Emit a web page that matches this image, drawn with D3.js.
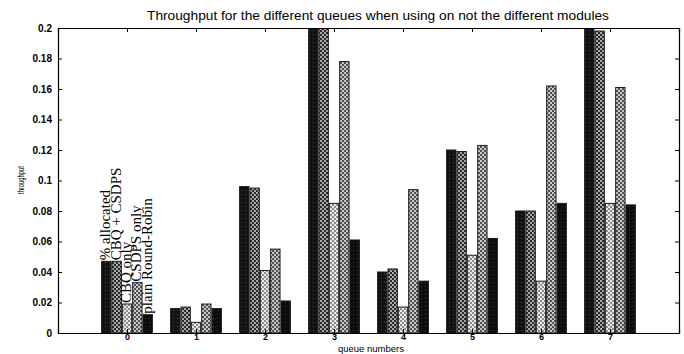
<!DOCTYPE html>
<html>
<head>
<meta charset="utf-8">
<script src="https://cdn.jsdelivr.net/npm/d3@7"></script>
<style>
  body { margin: 0; background: #fff; }
  svg { display: block; }
  .tick text { font-family: "Liberation Sans", Arial, sans-serif; }
</style>
</head>
<body>
<script>
//////////////////////
// GLOBAL VARIABLES //
const w = 684;
const h = 354;
const margin = { top: 28, right: 5, bottom: 21, left: 58 };

// queue numbers on the x axis
const queues = [0, 1, 2, 3, 4, 5, 6, 7];
// series names (also used as the rotated legend over queue 0)
const series = ["% allocated", "CBQ + CSDPS", "CBQ only", "CSDPS only", "plain Round-Robin"];
// throughput per queue, one array per series
const allocated   = [0.047, 0.016, 0.096, 0.215, 0.040, 0.120, 0.080, 0.205];
const cbqCsdps    = [0.047, 0.017, 0.095, 0.200, 0.042, 0.119, 0.080, 0.198];
const cbqOnly     = [0.019, 0.007, 0.041, 0.085, 0.017, 0.051, 0.034, 0.085];
const csdpsOnly   = [0.033, 0.019, 0.055, 0.178, 0.094, 0.123, 0.162, 0.161];
const roundRobin  = [0.012, 0.016, 0.021, 0.061, 0.034, 0.062, 0.085, 0.084];
const yTicks = [0, 0.02, 0.04, 0.06, 0.08, 0.1, 0.12, 0.14, 0.16, 0.18, 0.2];
const yTickLabels = ["0", "0.02", "0.04", "0.06", "0.08", "0.1", "0.12", "0.14", "0.16", "0.18", "0.2"];
const values = [allocated, cbqCsdps, cbqOnly, csdpsOnly, roundRobin];
//////////////////////

// dithered print look: [background, speck colour, pattern kind]
const fills = [
  ["#121212", "#4a4a4a", "sparse"],
  ["#2a2a2a", "#a8a8a8", "checker"],
  ["#e8e8e8", "#8c8c8c", "checker"],
  ["#505050", "#c8c8c8", "checker"],
  ["#0c0c0c", "#3a3a3a", "sparse"]
];

let svg = d3.select("body")
  .append("svg")
  .attr("width", w)
  .attr("height", h);

let defs = svg.append("defs");
fills.forEach((f, i) => {
  let p = defs.append("pattern")
    .attr("id", "fill" + i)
    .attr("patternUnits", "userSpaceOnUse")
    .attr("width", 4).attr("height", 4);
  p.append("rect").attr("width", 4).attr("height", 4).attr("fill", f[0]);
  if (f[2] == "checker") {
    p.append("rect").attr("x", 0).attr("y", 0).attr("width", 2).attr("height", 2).attr("fill", f[1]);
    p.append("rect").attr("x", 2).attr("y", 2).attr("width", 2).attr("height", 2).attr("fill", f[1]);
  } else {
    p.append("rect").attr("x", 1).attr("y", 2).attr("width", 1).attr("height", 1).attr("fill", f[1]);
  }
});

defs.append("clipPath").attr("id", "plotclip")
  .append("rect")
  .attr("x", margin.left).attr("y", margin.top)
  .attr("width", w - margin.left - margin.right)
  .attr("height", h - margin.top - margin.bottom);

// scales
let xScale = d3.scaleLinear()
  .domain([-1, 8])
  .range([margin.left, w - margin.right]);
let yScale = d3.scaleLinear()
  .domain([0, 0.2])
  .range([h - margin.bottom, margin.top]);

const slot = (xScale(1) - xScale(0)) * 0.75 / series.length;

// bars
let bars = svg.append("g").attr("clip-path", "url(#plotclip)");
values.forEach((vals, s) => {
  bars.selectAll(".s" + s)
    .data(vals)
    .enter()
    .append("rect")
    .attr("class", "s" + s)
    .attr("x", (d, i) => xScale(queues[i]) + (s - series.length / 2) * slot + 0.5)
    .attr("y", d => yScale(d))
    .attr("width", slot - 1)
    .attr("height", d => yScale(0) - yScale(d))
    .attr("fill", "url(#fill" + s + ")")
    .attr("stroke", "#1a1a1a")
    .attr("stroke-width", 1);
});

// axes box
const x0 = xScale.range()[0], x1 = xScale.range()[1];
const y0 = yScale.range()[0], y1 = yScale.range()[1];

let xAxis = svg.append("g")
  .attr("transform", "translate(0," + y0 + ")")
  .call(d3.axisBottom(xScale).tickValues(queues).tickSize(-4).tickPadding(1).tickFormat(d3.format("d")));
let xTop = svg.append("g")
  .attr("transform", "translate(0," + y1 + ")")
  .call(d3.axisTop(xScale).tickValues(queues).tickSize(-4).tickFormat(""));
let yAxis = svg.append("g")
  .attr("transform", "translate(" + x0 + ",0)")
  .call(d3.axisLeft(yScale).tickValues(yTicks).tickSize(-4).tickPadding(6)
    .tickFormat((d, i) => yTickLabels[i]));
let yRight = svg.append("g")
  .attr("transform", "translate(" + x1 + ",0)")
  .call(d3.axisRight(yScale).tickValues(yTicks).tickSize(-4).tickFormat(""));

[xAxis, xTop, yAxis, yRight].forEach(a => {
  a.select(".domain").attr("stroke", "#000").attr("stroke-width", 1.2);
  a.selectAll(".tick line").attr("stroke", "#000");
  a.selectAll(".tick text").attr("fill", "#000").attr("font-size", 10).attr("font-weight", "bold");
});
xAxis.selectAll(".tick text").attr("font-size", 9);

// rotated legend above the bars of queue 0
svg.selectAll(".legend")
  .data(series)
  .enter()
  .append("text")
  .attr("class", "legend")
  .attr("transform", (d, s) => {
    const cx = xScale(queues[0]) + (s - series.length / 2 + 0.5) * slot + 4;
    return "translate(" + cx + "," + (yScale(values[s][0]) - 1) + ") rotate(-90)";
  })
  .attr("font-family", "'Liberation Serif', 'Times New Roman', serif")
  .attr("font-size", 15)
  .attr("fill", "#000")
  .text(d => d);

// titles
svg.append("text")
  .attr("x", 378)
  .attr("y", 20)
  .attr("text-anchor", "middle")
  .attr("font-family", "'Liberation Sans', Arial, sans-serif")
  .attr("font-size", 12)
  .attr("textLength", 462)
  .attr("lengthAdjust", "spacingAndGlyphs")
  .text("Throughput for the different queues when using on not the different modules");

svg.append("text")
  .attr("x", 371)
  .attr("y", 352)
  .attr("text-anchor", "middle")
  .attr("font-family", "'Liberation Sans', Arial, sans-serif")
  .attr("font-size", 9.5)
  .text("queue numbers");

svg.append("text")
  .attr("transform", "translate(24,180) rotate(-90)")
  .attr("text-anchor", "middle")
  .attr("font-family", "'Liberation Sans', Arial, sans-serif")
  .attr("font-size", 9)
  .attr("textLength", 28)
  .attr("lengthAdjust", "spacingAndGlyphs")
  .text("throughput");
</script>
</body>
</html>
